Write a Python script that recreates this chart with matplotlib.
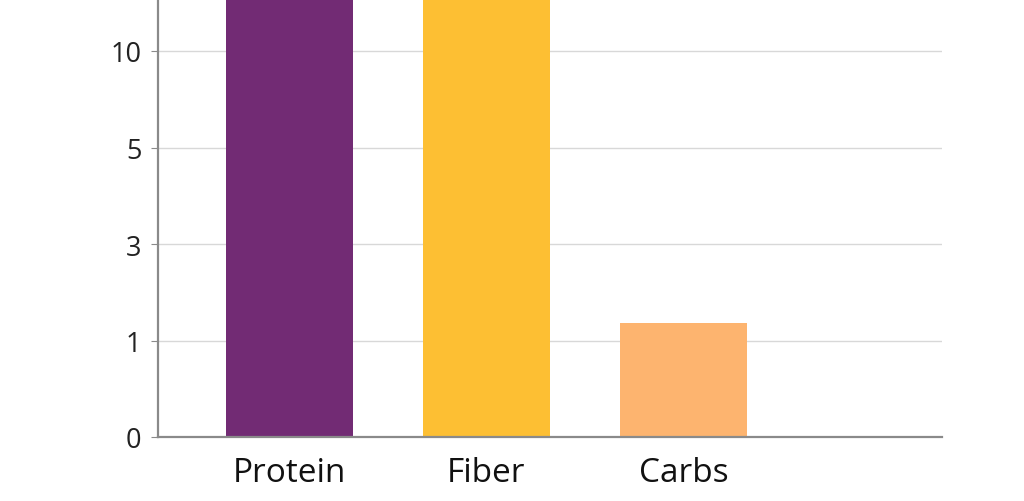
import numpy as np
import matplotlib
matplotlib.use("Agg")
import matplotlib.pyplot as plt

categories = ["Protein", "Fiber", "Carbs"]
values = [20, 18, 1.36]
colors = ["#722B74", "#FDBF33", "#FDB46F"]
yticks = [0, 1, 3, 5, 10]

plt.rcParams['font.family'] = ['Open Sans', 'DejaVu Sans']

_vals = [0, 1, 3, 5, 10, 1000]
_pos = [0, 1, 2, 3, 4, 4 + 990 / 5]

def fwd(v):
    return np.interp(v, _vals, _pos)

def inv(p):
    return np.interp(p, _pos, _vals)

fig = plt.figure(figsize=(10.24, 5.02), dpi=100)
ax = fig.add_axes([158 / 1024, 1 - 438 / 502, (942 - 158) / 1024, 438 / 502])
ax.set_yscale('function', functions=(fwd, inv))

x = np.arange(len(categories))
ax.bar(x, values, width=0.645, color=colors, zorder=2)

ax.set_ylim(0, inv(438 / 96.5))
ax.set_xlim(-0.665, 3.31)
ax.set_yticks(yticks)
ax.set_yticklabels([str(t) for t in yticks])
ax.yaxis.set_minor_locator(matplotlib.ticker.NullLocator())
ax.set_xticks(x)
ax.set_xticklabels(categories)

ax.grid(axis='y', color='#d8d8d8', linewidth=1.0, zorder=0)
for s in ['top', 'right']:
    ax.spines[s].set_visible(False)
for s in ['left', 'bottom']:
    ax.spines[s].set_color('#8a8a8a')
    ax.spines[s].set_linewidth(1.6)
ax.tick_params(axis='y', length=5, color='#8a8a8a', labelsize=19.5, pad=7, labelcolor='#222222')
ax.tick_params(axis='x', length=0, labelsize=24, pad=14, labelcolor='#111111')

fig.savefig("out.png", dpi=100)
